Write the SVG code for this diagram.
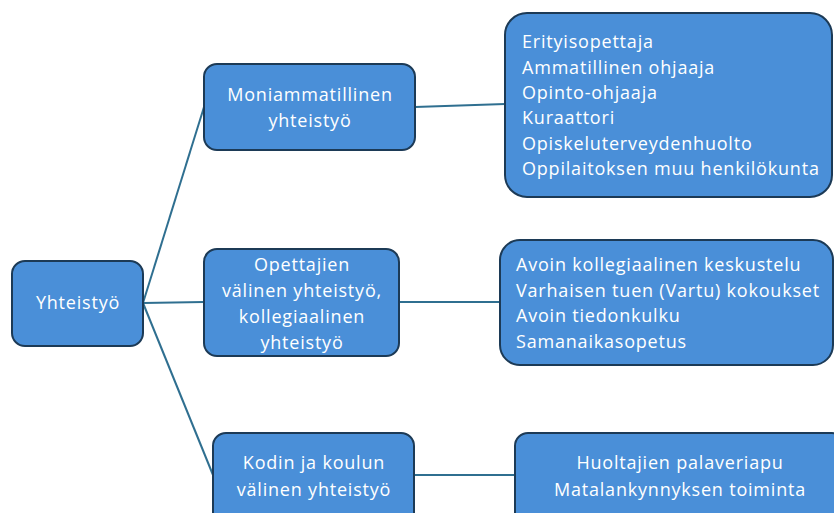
<svg xmlns="http://www.w3.org/2000/svg" width="834" height="513" viewBox="0 0 834 513">
<style>
.box{fill:#4a8fd8;stroke:#1c3a56;stroke-width:2}
.t{font-family:"Open Sans","Noto Sans",sans-serif;font-size:18px;letter-spacing:0.8px;fill:#ffffff}
.c{text-anchor:middle}
.conn{stroke:#2f6f90;stroke-width:2;fill:none}
</style>
<rect width="834" height="513" fill="#ffffff"/>
<g id="connectors">
<line class="conn" x1="143" y1="303" x2="204" y2="107"/>
<line class="conn" x1="143" y1="303" x2="204" y2="302"/>
<line class="conn" x1="143" y1="303" x2="213" y2="475"/>
<line class="conn" x1="415" y1="107" x2="505" y2="104"/>
<line class="conn" x1="399" y1="302" x2="500" y2="302"/>
<line class="conn" x1="414" y1="475" x2="515" y2="475"/>
</g>
<g id="yhteistyo">
<rect class="box" x="12" y="261" width="131" height="85" rx="13"/>
<text class="t c" x="78" y="309">Yhteistyö</text>
</g>
<g id="moniammatillinen">
<rect class="box" x="204" y="64" width="211" height="86" rx="13"/>
<text class="t c" x="310" y="101">Moniammatillinen</text>
<text class="t c" x="310" y="127">yhteistyö</text>
</g>
<g id="opettajien">
<rect class="box" x="204" y="249" width="195" height="107" rx="13"/>
<text class="t c" x="302" y="271">Opettajien</text>
<text class="t c" x="302" y="297">välinen yhteistyö,</text>
<text class="t c" x="302" y="323">kollegiaalinen</text>
<text class="t c" x="302" y="349">yhteistyö</text>
</g>
<g id="kodin">
<rect class="box" x="213" y="433" width="201" height="95" rx="13"/>
<text class="t c" x="314" y="469">Kodin ja koulun</text>
<text class="t c" x="314" y="496">välinen yhteistyö</text>
</g>
<g id="henkilot">
<rect class="box" x="505" y="13" width="327" height="184" rx="22"/>
<text class="t" x="522" y="48">Erityisopettaja</text>
<text class="t" x="522" y="74">Ammatillinen ohjaaja</text>
<text class="t" x="522" y="99">Opinto-ohjaaja</text>
<text class="t" x="522" y="124">Kuraattori</text>
<text class="t" x="522" y="150">Opiskeluterveydenhuolto</text>
<text class="t" x="522" y="175">Oppilaitoksen muu henkilökunta</text>
</g>
<g id="kollegiaalinen">
<rect class="box" x="500" y="240" width="333" height="125" rx="20"/>
<text class="t" x="516" y="271">Avoin kollegiaalinen keskustelu</text>
<text class="t" x="516" y="297">Varhaisen tuen (Vartu) kokoukset</text>
<text class="t" x="516" y="322">Avoin tiedonkulku</text>
<text class="t" x="516" y="348">Samanaikasopetus</text>
</g>
<g id="koti">
<rect class="box" x="515" y="433" width="330" height="95" rx="13"/>
<text class="t c" x="680" y="469">Huoltajien palaveriapu</text>
<text class="t c" x="680" y="496">Matalankynnyksen toiminta</text>
</g>
</svg>
